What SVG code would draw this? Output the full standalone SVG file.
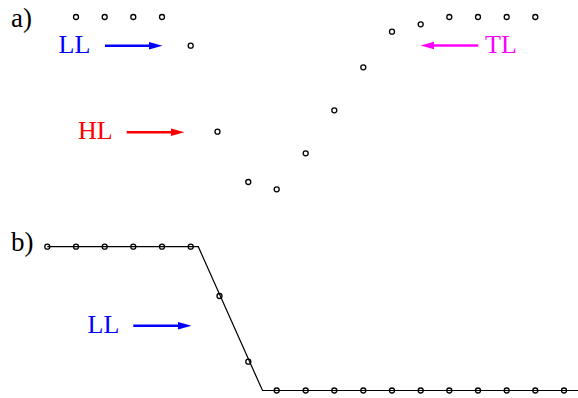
<svg xmlns="http://www.w3.org/2000/svg" width="578" height="398" viewBox="0 0 578 398">
<style>
.lbl{font-family:"Liberation Serif","Times New Roman",serif;font-size:26px}
.tag{font-family:"Liberation Serif","Times New Roman",serif;font-size:27px}
.pt{fill:none;stroke:#000;stroke-width:1.3}
.curve{fill:none;stroke:#000;stroke-width:1.2}
</style>
<rect width="578" height="398" fill="#fff"/>
<text class="tag" x="11" y="27">a)</text>
<text class="tag" x="11" y="251">b)</text>
<g id="points-a">
<circle class="pt" cx="76" cy="17" r="2.5"/>
<circle class="pt" cx="104.7" cy="17" r="2.5"/>
<circle class="pt" cx="133.3" cy="17" r="2.5"/>
<circle class="pt" cx="162" cy="17" r="2.5"/>
<circle class="pt" cx="190.7" cy="45.7" r="2.5"/>
<circle class="pt" cx="217.5" cy="131.7" r="2.5"/>
<circle class="pt" cx="248.3" cy="182" r="2.5"/>
<circle class="pt" cx="276.7" cy="189.3" r="2.5"/>
<circle class="pt" cx="305.7" cy="153.3" r="2.5"/>
<circle class="pt" cx="334.3" cy="110.3" r="2.5"/>
<circle class="pt" cx="363.3" cy="67.3" r="2.5"/>
<circle class="pt" cx="392" cy="31.7" r="2.5"/>
<circle class="pt" cx="420.7" cy="24.3" r="2.5"/>
<circle class="pt" cx="449.3" cy="17" r="2.5"/>
<circle class="pt" cx="478" cy="17" r="2.5"/>
<circle class="pt" cx="506.7" cy="17" r="2.5"/>
<circle class="pt" cx="535.3" cy="17" r="2.5"/>
</g>
<g id="curve-b">
<polyline class="curve" points="47.3,246.7 198.3,246.7 262.5,390.5 578,390.5"/>
</g>
<g id="points-b">
<circle class="pt" cx="47.3" cy="246.7" r="2.5"/>
<circle class="pt" cx="76" cy="246.7" r="2.5"/>
<circle class="pt" cx="104.7" cy="246.7" r="2.5"/>
<circle class="pt" cx="133.3" cy="246.7" r="2.5"/>
<circle class="pt" cx="162" cy="246.7" r="2.5"/>
<circle class="pt" cx="190.7" cy="246.7" r="2.5"/>
<circle class="pt" cx="219.5" cy="296" r="2.5"/>
<circle class="pt" cx="248.3" cy="361.7" r="2.5"/>
<circle class="pt" cx="276.7" cy="390.5" r="2.5"/>
<circle class="pt" cx="305.7" cy="390.5" r="2.5"/>
<circle class="pt" cx="334.3" cy="390.5" r="2.5"/>
<circle class="pt" cx="363.3" cy="390.5" r="2.5"/>
<circle class="pt" cx="392" cy="390.5" r="2.5"/>
<circle class="pt" cx="420.7" cy="390.5" r="2.5"/>
<circle class="pt" cx="449.3" cy="390.5" r="2.5"/>
<circle class="pt" cx="478" cy="390.5" r="2.5"/>
<circle class="pt" cx="506.7" cy="390.5" r="2.5"/>
<circle class="pt" cx="535.3" cy="390.5" r="2.5"/>
<circle class="pt" cx="564" cy="390.5" r="2.5"/>
</g>
<g id="label-LL-a"><text class="lbl" x="58.5" y="53" fill="#0000ff">LL</text></g>
<g id="label-HL"><text class="lbl" x="78" y="139" fill="#ff0000">HL</text></g>
<g id="label-TL"><text class="lbl" x="485" y="53" fill="#ff00ff">TL</text></g>
<g id="label-LL-b"><text class="lbl" x="87.5" y="333" fill="#0000ff">LL</text></g>
<g id="arrows">
<line x1="105" y1="45.7" x2="150" y2="45.7" stroke="#0000ff" stroke-width="2.6"/>
<polygon points="149,42 162.5,45.7 149,49.4" fill="#0000ff"/>
<line x1="126.7" y1="132.3" x2="172" y2="132.3" stroke="#ff0000" stroke-width="2.6"/>
<polygon points="171,128.6 184.5,132.3 171,136" fill="#ff0000"/>
<line x1="478.3" y1="45.5" x2="433" y2="45.5" stroke="#ff00ff" stroke-width="2.6"/>
<polygon points="434,41.8 420.5,45.5 434,49.2" fill="#ff00ff"/>
<line x1="133.3" y1="325.7" x2="179" y2="325.7" stroke="#0000ff" stroke-width="2.6"/>
<polygon points="178,322 191.5,325.7 178,329.4" fill="#0000ff"/>
</g>
</svg>
